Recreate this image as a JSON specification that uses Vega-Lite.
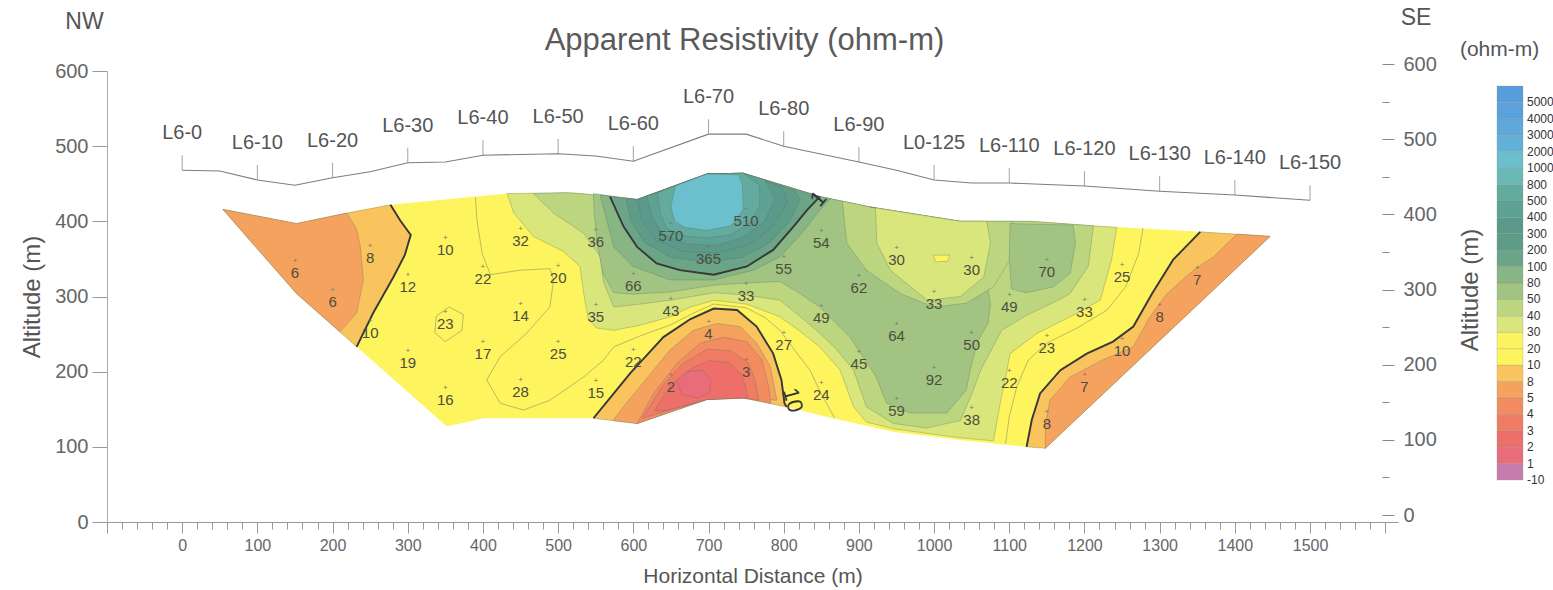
{
"$schema":"https://vega.github.io/schema/vega-lite/v6.json",
"width":1291,"height":451,
"autosize":{"type":"none"},
"padding":{"left":107,"top":71,"right":155,"bottom":68},
"background":"white",
"config":{"view":{"stroke":null},"font":"Liberation Sans","axis":{"grid":false,"labelFont":"Liberation Sans","titleFont":"Liberation Sans","titleFontWeight":"normal"},"title":{"font":"Liberation Sans","fontWeight":"normal"}},
"title":{"text":"Apparent Resistivity (ohm-m)","fontSize":31,"color":"#5a5a5a","anchor":"middle","frame":"group","dx":-8,"offset":-50},
"datasets":{
"poly":[
{"p":"S","z":0,"b":"10","x":54,"y":416},{"p":"S","z":0,"b":"10","x":152,"y":397},{"p":"S","z":0,"b":"10","x":219,"y":411},{"p":"S","z":0,"b":"10","x":277,"y":422},{"p":"S","z":0,"b":"10","x":432,"y":437},{"p":"S","z":0,"b":"10","x":512,"y":438},{"p":"S","z":0,"b":"10","x":529,"y":437},{"p":"S","z":0,"b":"10","x":605,"y":429},{"p":"S","z":0,"b":"10","x":698,"y":463},{"p":"S","z":0,"b":"10","x":746,"y":464},{"p":"S","z":0,"b":"10","x":848,"y":433},{"p":"S","z":0,"b":"10","x":915,"y":419},{"p":"S","z":0,"b":"10","x":1035,"y":400},{"p":"S","z":0,"b":"10","x":1128,"y":400},{"p":"S","z":0,"b":"10","x":1212,"y":394},{"p":"S","z":0,"b":"10","x":1354,"y":386},{"p":"S","z":0,"b":"10","x":1447,"y":380},{"p":"S","z":0,"b":"10","x":1148,"y":98},{"p":"S","z":0,"b":"10","x":1123,"y":100},{"p":"S","z":0,"b":"10","x":1035,"y":109},{"p":"S","z":0,"b":"10","x":946,"y":120},{"p":"S","z":0,"b":"10","x":857,"y":140},{"p":"S","z":0,"b":"10","x":804,"y":153},{"p":"S","z":0,"b":"10","x":746,"y":165},{"p":"S","z":0,"b":"10","x":698,"y":163},{"p":"S","z":0,"b":"10","x":605,"y":131},{"p":"S","z":0,"b":"10","x":547,"y":138},{"p":"S","z":0,"b":"10","x":401,"y":138},{"p":"S","z":0,"b":"10","x":352,"y":127},{"p":"S","z":0,"b":"10","x":232,"y":233},{"p":"S","z":0,"b":"10","x":152,"y":304},
{"p":"LOL","z":1,"b":"8","x":54,"y":416},{"p":"LOL","z":1,"b":"8","x":152,"y":397},{"p":"LOL","z":1,"b":"8","x":219,"y":411},{"p":"LOL","z":1,"b":"8","x":277,"y":422},{"p":"LOL","z":1,"b":"8","x":290,"y":401},{"p":"LOL","z":1,"b":"8","x":304,"y":382},{"p":"LOL","z":1,"b":"8","x":296,"y":355},{"p":"LOL","z":1,"b":"8","x":281,"y":326},{"p":"LOL","z":1,"b":"8","x":254,"y":278},{"p":"LOL","z":1,"b":"8","x":232,"y":233},{"p":"LOL","z":1,"b":"8","x":152,"y":304},
{"p":"LOR","z":1,"b":"8","x":1354,"y":386},{"p":"LOR","z":1,"b":"8","x":1318,"y":349},{"p":"LOR","z":1,"b":"8","x":1290,"y":304},{"p":"LOR","z":1,"b":"8","x":1265,"y":260},{"p":"LOR","z":1,"b":"8","x":1238,"y":240},{"p":"LOR","z":1,"b":"8","x":1203,"y":224},{"p":"LOR","z":1,"b":"8","x":1168,"y":202},{"p":"LOR","z":1,"b":"8","x":1141,"y":171},{"p":"LOR","z":1,"b":"8","x":1130,"y":136},{"p":"LOR","z":1,"b":"8","x":1123,"y":100},{"p":"LOR","z":1,"b":"8","x":1148,"y":98},{"p":"LOR","z":1,"b":"8","x":1447,"y":380},
{"p":"LOC","z":1,"b":"8","x":547,"y":138},{"p":"LOC","z":1,"b":"8","x":574,"y":171},{"p":"LOC","z":1,"b":"8","x":596,"y":198},{"p":"LOC","z":1,"b":"8","x":618,"y":222},{"p":"LOC","z":1,"b":"8","x":640,"y":246},{"p":"LOC","z":1,"b":"8","x":676,"y":270},{"p":"LOC","z":1,"b":"8","x":707,"y":284},{"p":"LOC","z":1,"b":"8","x":738,"y":282},{"p":"LOC","z":1,"b":"8","x":764,"y":260},{"p":"LOC","z":1,"b":"8","x":786,"y":224},{"p":"LOC","z":1,"b":"8","x":797,"y":189},{"p":"LOC","z":1,"b":"8","x":801,"y":158},{"p":"LOC","z":1,"b":"8","x":804,"y":153},{"p":"LOC","z":1,"b":"8","x":746,"y":165},{"p":"LOC","z":1,"b":"8","x":698,"y":163},{"p":"LOC","z":1,"b":"8","x":605,"y":131},
{"p":"P30","z":1,"b":"30","x":432,"y":437},{"p":"P30","z":1,"b":"30","x":512,"y":438},{"p":"P30","z":1,"b":"30","x":529,"y":437},{"p":"P30","z":1,"b":"30","x":605,"y":429},{"p":"P30","z":1,"b":"30","x":698,"y":463},{"p":"P30","z":1,"b":"30","x":746,"y":464},{"p":"P30","z":1,"b":"30","x":848,"y":433},{"p":"P30","z":1,"b":"30","x":915,"y":419},{"p":"P30","z":1,"b":"30","x":1035,"y":400},{"p":"P30","z":1,"b":"30","x":1128,"y":400},{"p":"P30","z":1,"b":"30","x":1212,"y":394},{"p":"P30","z":1,"b":"30","x":1243,"y":392},{"p":"P30","z":1,"b":"30","x":1236,"y":349},{"p":"P30","z":1,"b":"30","x":1221,"y":295},{"p":"P30","z":1,"b":"30","x":1181,"y":273},{"p":"P30","z":1,"b":"30","x":1137,"y":251},{"p":"P30","z":1,"b":"30","x":1101,"y":224},{"p":"P30","z":1,"b":"30","x":1097,"y":202},{"p":"P30","z":1,"b":"30","x":1088,"y":158},{"p":"P30","z":1,"b":"30","x":1079,"y":108},{"p":"P30","z":1,"b":"30","x":1035,"y":112},{"p":"P30","z":1,"b":"30","x":990,"y":118},{"p":"P30","z":1,"b":"30","x":946,"y":124},{"p":"P30","z":1,"b":"30","x":910,"y":133},{"p":"P30","z":1,"b":"30","x":893,"y":153},{"p":"P30","z":1,"b":"30","x":875,"y":202},{"p":"P30","z":1,"b":"30","x":848,"y":233},{"p":"P30","z":1,"b":"30","x":820,"y":255},{"p":"P30","z":1,"b":"30","x":795,"y":273},{"p":"P30","z":1,"b":"30","x":750,"y":290},{"p":"P30","z":1,"b":"30","x":707,"y":295},{"p":"P30","z":1,"b":"30","x":676,"y":286},{"p":"P30","z":1,"b":"30","x":649,"y":273},{"p":"P30","z":1,"b":"30","x":610,"y":262},{"p":"P30","z":1,"b":"30","x":574,"y":255},{"p":"P30","z":1,"b":"30","x":551,"y":258},{"p":"P30","z":1,"b":"30","x":540,"y":270},{"p":"P30","z":1,"b":"30","x":534,"y":304},{"p":"P30","z":1,"b":"30","x":529,"y":340},{"p":"P30","z":1,"b":"30","x":507,"y":360},{"p":"P30","z":1,"b":"30","x":467,"y":380},{"p":"P30","z":1,"b":"30","x":441,"y":411},
{"p":"OL","z":2,"b":"5","x":54,"y":416},{"p":"OL","z":2,"b":"5","x":152,"y":397},{"p":"OL","z":2,"b":"5","x":219,"y":411},{"p":"OL","z":2,"b":"5","x":232,"y":390},{"p":"OL","z":2,"b":"5","x":237,"y":366},{"p":"OL","z":2,"b":"5","x":241,"y":322},{"p":"OL","z":2,"b":"5","x":232,"y":278},{"p":"OL","z":2,"b":"5","x":210,"y":253},{"p":"OL","z":2,"b":"5","x":152,"y":304},
{"p":"OR","z":2,"b":"5","x":1403,"y":383},{"p":"OR","z":2,"b":"5","x":1372,"y":353},{"p":"OR","z":2,"b":"5","x":1345,"y":335},{"p":"OR","z":2,"b":"5","x":1310,"y":304},{"p":"OR","z":2,"b":"5","x":1287,"y":273},{"p":"OR","z":2,"b":"5","x":1265,"y":233},{"p":"OR","z":2,"b":"5","x":1225,"y":216},{"p":"OR","z":2,"b":"5","x":1181,"y":193},{"p":"OR","z":2,"b":"5","x":1154,"y":162},{"p":"OR","z":2,"b":"5","x":1148,"y":127},{"p":"OR","z":2,"b":"5","x":1148,"y":98},{"p":"OR","z":2,"b":"5","x":1447,"y":380},
{"p":"OC","z":2,"b":"5","x":573,"y":135},{"p":"OC","z":2,"b":"5","x":592,"y":160},{"p":"OC","z":2,"b":"5","x":609,"y":180},{"p":"OC","z":2,"b":"5","x":630,"y":206},{"p":"OC","z":2,"b":"5","x":649,"y":229},{"p":"OC","z":2,"b":"5","x":680,"y":255},{"p":"OC","z":2,"b":"5","x":711,"y":264},{"p":"OC","z":2,"b":"5","x":742,"y":260},{"p":"OC","z":2,"b":"5","x":764,"y":238},{"p":"OC","z":2,"b":"5","x":782,"y":207},{"p":"OC","z":2,"b":"5","x":791,"y":162},{"p":"OC","z":2,"b":"5","x":746,"y":165},{"p":"OC","z":2,"b":"5","x":698,"y":163},{"p":"OC","z":2,"b":"5","x":605,"y":131},
{"p":"P40","z":2,"b":"40","x":467,"y":437},{"p":"P40","z":2,"b":"40","x":512,"y":438},{"p":"P40","z":2,"b":"40","x":529,"y":437},{"p":"P40","z":2,"b":"40","x":605,"y":429},{"p":"P40","z":2,"b":"40","x":698,"y":463},{"p":"P40","z":2,"b":"40","x":746,"y":464},{"p":"P40","z":2,"b":"40","x":848,"y":433},{"p":"P40","z":2,"b":"40","x":915,"y":419},{"p":"P40","z":2,"b":"40","x":1035,"y":400},{"p":"P40","z":2,"b":"40","x":1128,"y":400},{"p":"P40","z":2,"b":"40","x":1212,"y":394},{"p":"P40","z":2,"b":"40","x":1205,"y":340},{"p":"P40","z":2,"b":"40","x":1181,"y":304},{"p":"P40","z":2,"b":"40","x":1165,"y":295},{"p":"P40","z":2,"b":"40","x":1123,"y":275},{"p":"P40","z":2,"b":"40","x":1090,"y":255},{"p":"P40","z":2,"b":"40","x":1074,"y":225},{"p":"P40","z":2,"b":"40","x":1062,"y":202},{"p":"P40","z":2,"b":"40","x":1050,"y":170},{"p":"P40","z":2,"b":"40","x":1035,"y":135},{"p":"P40","z":2,"b":"40","x":990,"y":125},{"p":"P40","z":2,"b":"40","x":946,"y":131},{"p":"P40","z":2,"b":"40","x":910,"y":153},{"p":"P40","z":2,"b":"40","x":893,"y":202},{"p":"P40","z":2,"b":"40","x":870,"y":230},{"p":"P40","z":2,"b":"40","x":848,"y":251},{"p":"P40","z":2,"b":"40","x":820,"y":275},{"p":"P40","z":2,"b":"40","x":795,"y":295},{"p":"P40","z":2,"b":"40","x":750,"y":302},{"p":"P40","z":2,"b":"40","x":707,"y":305},{"p":"P40","z":2,"b":"40","x":649,"y":295},{"p":"P40","z":2,"b":"40","x":610,"y":290},{"p":"P40","z":2,"b":"40","x":574,"y":286},{"p":"P40","z":2,"b":"40","x":560,"y":320},{"p":"P40","z":2,"b":"40","x":556,"y":353},{"p":"P40","z":2,"b":"40","x":534,"y":384},{"p":"P40","z":2,"b":"40","x":494,"y":411},
{"p":"P45","z":3,"b":"4","x":605,"y":131},{"p":"P45","z":3,"b":"4","x":627,"y":171},{"p":"P45","z":3,"b":"4","x":658,"y":211},{"p":"P45","z":3,"b":"4","x":689,"y":238},{"p":"P45","z":3,"b":"4","x":720,"y":246},{"p":"P45","z":3,"b":"4","x":751,"y":240},{"p":"P45","z":3,"b":"4","x":771,"y":216},{"p":"P45","z":3,"b":"4","x":780,"y":180},{"p":"P45","z":3,"b":"4","x":783,"y":158},{"p":"P45","z":3,"b":"4","x":746,"y":165},{"p":"P45","z":3,"b":"4","x":698,"y":163},
{"p":"P50","z":3,"b":"50","x":547,"y":437},{"p":"P50","z":3,"b":"50","x":605,"y":429},{"p":"P50","z":3,"b":"50","x":698,"y":463},{"p":"P50","z":3,"b":"50","x":746,"y":464},{"p":"P50","z":3,"b":"50","x":848,"y":433},{"p":"P50","z":3,"b":"50","x":915,"y":419},{"p":"P50","z":3,"b":"50","x":1035,"y":400},{"p":"P50","z":3,"b":"50","x":1060,"y":400},{"p":"P50","z":3,"b":"50","x":1060,"y":360},{"p":"P50","z":3,"b":"50","x":1070,"y":320},{"p":"P50","z":3,"b":"50","x":1075,"y":290},{"p":"P50","z":3,"b":"50","x":1072,"y":265},{"p":"P50","z":3,"b":"50","x":1058,"y":240},{"p":"P50","z":3,"b":"50","x":1048,"y":202},{"p":"P50","z":3,"b":"50","x":1043,"y":176},{"p":"P50","z":3,"b":"50","x":1017,"y":145},{"p":"P50","z":3,"b":"50","x":968,"y":145},{"p":"P50","z":3,"b":"50","x":937,"y":158},{"p":"P50","z":3,"b":"50","x":922,"y":195},{"p":"P50","z":3,"b":"50","x":888,"y":246},{"p":"P50","z":3,"b":"50","x":848,"y":286},{"p":"P50","z":3,"b":"50","x":820,"y":305},{"p":"P50","z":3,"b":"50","x":795,"y":320},{"p":"P50","z":3,"b":"50","x":750,"y":318},{"p":"P50","z":3,"b":"50","x":707,"y":315},{"p":"P50","z":3,"b":"50","x":649,"y":306},{"p":"P50","z":3,"b":"50","x":600,"y":303},{"p":"P50","z":3,"b":"50","x":574,"y":305},{"p":"P50","z":3,"b":"50","x":560,"y":330},{"p":"P50","z":3,"b":"50","x":552,"y":370},{"p":"P50","z":3,"b":"50","x":548,"y":410},
{"p":"P34","z":4,"b":"3","x":612,"y":138},{"p":"P34","z":4,"b":"3","x":638,"y":180},{"p":"P34","z":4,"b":"3","x":665,"y":210},{"p":"P34","z":4,"b":"3","x":698,"y":230},{"p":"P34","z":4,"b":"3","x":729,"y":228},{"p":"P34","z":4,"b":"3","x":753,"y":212},{"p":"P34","z":4,"b":"3","x":762,"y":188},{"p":"P34","z":4,"b":"3","x":767,"y":162},{"p":"P34","z":4,"b":"3","x":746,"y":165},{"p":"P34","z":4,"b":"3","x":698,"y":163},
{"p":"R40","z":4,"b":"40","x":878,"y":427},{"p":"R40","z":4,"b":"40","x":884,"y":371},{"p":"R40","z":4,"b":"40","x":910,"y":335},{"p":"R40","z":4,"b":"40","x":955,"y":304},{"p":"R40","z":4,"b":"40","x":999,"y":286},{"p":"R40","z":4,"b":"40","x":1043,"y":291},{"p":"R40","z":4,"b":"40","x":1079,"y":313},{"p":"R40","z":4,"b":"40","x":1101,"y":349},{"p":"R40","z":4,"b":"40","x":1105,"y":400},{"p":"R40","z":4,"b":"40","x":1035,"y":400},{"p":"R40","z":4,"b":"40","x":915,"y":419},
{"p":"B70","z":4,"b":"50","x":1101,"y":397},{"p":"B70","z":4,"b":"50","x":1185,"y":395},{"p":"B70","z":4,"b":"50","x":1188,"y":371},{"p":"B70","z":4,"b":"50","x":1181,"y":331},{"p":"B70","z":4,"b":"50","x":1159,"y":313},{"p":"B70","z":4,"b":"50","x":1123,"y":305},{"p":"B70","z":4,"b":"50","x":1103,"y":310},{"p":"B70","z":4,"b":"50","x":1100,"y":350},
{"p":"P80","z":4,"b":"80","x":556,"y":435},{"p":"P80","z":4,"b":"80","x":565,"y":400},{"p":"P80","z":4,"b":"80","x":574,"y":366},{"p":"P80","z":4,"b":"80","x":600,"y":340},{"p":"P80","z":4,"b":"80","x":649,"y":322},{"p":"P80","z":4,"b":"80","x":707,"y":322},{"p":"P80","z":4,"b":"80","x":760,"y":335},{"p":"P80","z":4,"b":"80","x":795,"y":353},{"p":"P80","z":4,"b":"80","x":825,"y":385},{"p":"P80","z":4,"b":"80","x":848,"y":415},{"p":"P80","z":4,"b":"80","x":862,"y":430},{"p":"P80","z":4,"b":"80","x":848,"y":433},{"p":"P80","z":4,"b":"80","x":746,"y":464},{"p":"P80","z":4,"b":"80","x":698,"y":463},{"p":"P80","z":4,"b":"80","x":605,"y":429},
{"p":"P23","z":5,"b":"2","x":628,"y":148},{"p":"P23","z":5,"b":"2","x":650,"y":182},{"p":"P23","z":5,"b":"2","x":678,"y":205},{"p":"P23","z":5,"b":"2","x":702,"y":215},{"p":"P23","z":5,"b":"2","x":728,"y":212},{"p":"P23","z":5,"b":"2","x":744,"y":196},{"p":"P23","z":5,"b":"2","x":750,"y":178},{"p":"P23","z":5,"b":"2","x":752,"y":165},{"p":"P23","z":5,"b":"2","x":698,"y":163},{"p":"P23","z":5,"b":"2","x":642,"y":148},
{"p":"B30","z":5,"b":"30","x":922,"y":418},{"p":"B30","z":5,"b":"30","x":924,"y":371},{"p":"B30","z":5,"b":"30","x":942,"y":335},{"p":"B30","z":5,"b":"30","x":991,"y":295},{"p":"B30","z":5,"b":"30","x":1035,"y":300},{"p":"B30","z":5,"b":"30","x":1066,"y":326},{"p":"B30","z":5,"b":"30","x":1075,"y":371},{"p":"B30","z":5,"b":"30","x":1070,"y":400},{"p":"B30","z":5,"b":"30","x":1035,"y":400},{"p":"B30","z":5,"b":"30","x":915,"y":419},
{"p":"P100","z":5,"b":"100","x":569,"y":433},{"p":"P100","z":5,"b":"100","x":587,"y":393},{"p":"P100","z":5,"b":"100","x":605,"y":366},{"p":"P100","z":5,"b":"100","x":631,"y":344},{"p":"P100","z":5,"b":"100","x":662,"y":335},{"p":"P100","z":5,"b":"100","x":707,"y":329},{"p":"P100","z":5,"b":"100","x":751,"y":340},{"p":"P100","z":5,"b":"100","x":786,"y":362},{"p":"P100","z":5,"b":"100","x":813,"y":393},{"p":"P100","z":5,"b":"100","x":831,"y":415},{"p":"P100","z":5,"b":"100","x":848,"y":433},{"p":"P100","z":5,"b":"100","x":746,"y":464},{"p":"P100","z":5,"b":"100","x":698,"y":463},{"p":"P100","z":5,"b":"100","x":605,"y":429},
{"p":"P12","z":6,"b":"1","x":658,"y":188},{"p":"P12","z":6,"b":"1","x":670,"y":200},{"p":"P12","z":6,"b":"1","x":692,"y":202},{"p":"P12","z":6,"b":"1","x":703,"y":190},{"p":"P12","z":6,"b":"1","x":702,"y":172},{"p":"P12","z":6,"b":"1","x":686,"y":165},{"p":"P12","z":6,"b":"1","x":664,"y":170},
{"p":"Y20","z":6,"b":"20","x":999,"y":355},{"p":"Y20","z":6,"b":"20","x":1021,"y":355},{"p":"Y20","z":6,"b":"20","x":1018,"y":347},{"p":"Y20","z":6,"b":"20","x":1002,"y":346},
{"p":"P200","z":6,"b":"200","x":590,"y":431},{"p":"P200","z":6,"b":"200","x":597,"y":400},{"p":"P200","z":6,"b":"200","x":615,"y":372},{"p":"P200","z":6,"b":"200","x":650,"y":352},{"p":"P200","z":6,"b":"200","x":700,"y":346},{"p":"P200","z":6,"b":"200","x":745,"y":352},{"p":"P200","z":6,"b":"200","x":782,"y":372},{"p":"P200","z":6,"b":"200","x":808,"y":400},{"p":"P200","z":6,"b":"200","x":822,"y":428},{"p":"P200","z":6,"b":"200","x":815,"y":441},{"p":"P200","z":6,"b":"200","x":746,"y":464},{"p":"P200","z":6,"b":"200","x":698,"y":463},{"p":"P200","z":6,"b":"200","x":605,"y":429},
{"p":"P300","z":7,"b":"300","x":605,"y":429},{"p":"P300","z":7,"b":"300","x":612,"y":400},{"p":"P300","z":7,"b":"300","x":630,"y":375},{"p":"P300","z":7,"b":"300","x":665,"y":360},{"p":"P300","z":7,"b":"300","x":710,"y":358},{"p":"P300","z":7,"b":"300","x":752,"y":368},{"p":"P300","z":7,"b":"300","x":785,"y":392},{"p":"P300","z":7,"b":"300","x":805,"y":425},{"p":"P300","z":7,"b":"300","x":798,"y":445},{"p":"P300","z":7,"b":"300","x":746,"y":464},{"p":"P300","z":7,"b":"300","x":698,"y":463},
{"p":"P400","z":8,"b":"400","x":618,"y":433},{"p":"P400","z":8,"b":"400","x":625,"y":405},{"p":"P400","z":8,"b":"400","x":640,"y":382},{"p":"P400","z":8,"b":"400","x":670,"y":370},{"p":"P400","z":8,"b":"400","x":710,"y":368},{"p":"P400","z":8,"b":"400","x":745,"y":378},{"p":"P400","z":8,"b":"400","x":775,"y":400},{"p":"P400","z":8,"b":"400","x":788,"y":430},{"p":"P400","z":8,"b":"400","x":775,"y":455},{"p":"P400","z":8,"b":"400","x":746,"y":464},{"p":"P400","z":8,"b":"400","x":698,"y":463},
{"p":"P500","z":9,"b":"500","x":632,"y":438},{"p":"P500","z":9,"b":"500","x":636,"y":410},{"p":"P500","z":9,"b":"500","x":645,"y":390},{"p":"P500","z":9,"b":"500","x":670,"y":380},{"p":"P500","z":9,"b":"500","x":700,"y":378},{"p":"P500","z":9,"b":"500","x":730,"y":382},{"p":"P500","z":9,"b":"500","x":755,"y":398},{"p":"P500","z":9,"b":"500","x":768,"y":420},{"p":"P500","z":9,"b":"500","x":768,"y":448},{"p":"P500","z":9,"b":"500","x":746,"y":464},{"p":"P500","z":9,"b":"500","x":698,"y":463},
{"p":"CORE","z":10,"b":"1000","x":656,"y":447},{"p":"CORE","z":10,"b":"1000","x":650,"y":420},{"p":"CORE","z":10,"b":"1000","x":655,"y":400},{"p":"CORE","z":10,"b":"1000","x":668,"y":392},{"p":"CORE","z":10,"b":"1000","x":698,"y":388},{"p":"CORE","z":10,"b":"1000","x":730,"y":394},{"p":"CORE","z":10,"b":"1000","x":746,"y":415},{"p":"CORE","z":10,"b":"1000","x":745,"y":448},{"p":"CORE","z":10,"b":"1000","x":740,"y":462},{"p":"CORE","z":10,"b":"1000","x":698,"y":463}
],
"thin":[
{"l":"T1","x":390,"y":432},{"l":"T1","x":392,"y":402},{"l":"T1","x":399,"y":357},{"l":"T1","x":410,"y":329},{"l":"T1","x":449,"y":335},{"l":"T1","x":489,"y":337},{"l":"T1","x":494,"y":322},{"l":"T1","x":489,"y":286},{"l":"T1","x":458,"y":251},{"l":"T1","x":423,"y":220},{"l":"T1","x":405,"y":189},{"l":"T1","x":423,"y":158},{"l":"T1","x":454,"y":149},{"l":"T1","x":489,"y":162},{"l":"T1","x":534,"y":193},{"l":"T1","x":560,"y":215},{"l":"T1","x":574,"y":233},{"l":"T1","x":610,"y":248},{"l":"T1","x":649,"y":262},{"l":"T1","x":680,"y":278},{"l":"T1","x":707,"y":290},{"l":"T1","x":750,"y":285},{"l":"T1","x":775,"y":272},{"l":"T1","x":795,"y":255},{"l":"T1","x":815,"y":228},{"l":"T1","x":835,"y":202},{"l":"T1","x":850,"y":170},{"l":"T1","x":868,"y":138},
{"l":"T2","x":355,"y":286},{"l":"T2","x":374,"y":276},{"l":"T2","x":372,"y":255},{"l":"T2","x":350,"y":240},{"l":"T2","x":336,"y":252},{"l":"T2","x":338,"y":274},{"l":"T2","x":355,"y":286},
{"l":"T3","x":1278,"y":391},{"l":"T3","x":1272,"y":357},{"l":"T3","x":1255,"y":313},{"l":"T3","x":1230,"y":282},{"l":"T3","x":1190,"y":258},{"l":"T3","x":1150,"y":238},{"l":"T3","x":1125,"y":215},{"l":"T3","x":1110,"y":180},{"l":"T3","x":1100,"y":140},{"l":"T3","x":1095,"y":104}
],
"thick":[
{"l":"K1","x":277,"y":422},{"l":"K1","x":290,"y":401},{"l":"K1","x":304,"y":382},{"l":"K1","x":296,"y":355},{"l":"K1","x":281,"y":326},{"l":"K1","x":254,"y":278},{"l":"K1","x":232,"y":233},
{"l":"K2","x":547,"y":138},{"l":"K2","x":574,"y":171},{"l":"K2","x":596,"y":198},{"l":"K2","x":618,"y":222},{"l":"K2","x":640,"y":246},{"l":"K2","x":676,"y":270},{"l":"K2","x":707,"y":284},{"l":"K2","x":738,"y":282},{"l":"K2","x":764,"y":260},{"l":"K2","x":786,"y":224},{"l":"K2","x":797,"y":189},{"l":"K2","x":801,"y":158},{"l":"K2","x":804,"y":153},
{"l":"K3","x":1354,"y":386},{"l":"K3","x":1318,"y":349},{"l":"K3","x":1290,"y":304},{"l":"K3","x":1265,"y":260},{"l":"K3","x":1238,"y":240},{"l":"K3","x":1203,"y":224},{"l":"K3","x":1168,"y":202},{"l":"K3","x":1141,"y":171},{"l":"K3","x":1130,"y":136},{"l":"K3","x":1123,"y":100},
{"l":"K4","x":569,"y":433},{"l":"K4","x":587,"y":393},{"l":"K4","x":605,"y":366},{"l":"K4","x":631,"y":344},{"l":"K4","x":662,"y":335},{"l":"K4","x":707,"y":329},{"l":"K4","x":751,"y":340},{"l":"K4","x":786,"y":362},{"l":"K4","x":813,"y":393},{"l":"K4","x":831,"y":415},{"l":"K4","x":848,"y":433}
],
"profile":[{"x":0,"y":468},{"x":50,"y":467},{"x":100,"y":455},{"x":150,"y":448},{"x":200,"y":458},{"x":250,"y":466},{"x":300,"y":478},{"x":350,"y":479},{"x":400,"y":488},{"x":500,"y":490},{"x":550,"y":487},{"x":600,"y":480},{"x":700,"y":516},{"x":750,"y":516},{"x":800,"y":500},{"x":900,"y":479},{"x":950,"y":468},{"x":1000,"y":455},{"x":1050,"y":451},{"x":1100,"y":451},{"x":1200,"y":447},{"x":1300,"y":440},{"x":1400,"y":435},{"x":1500,"y":428}],
"stations":[{"s":"L6-0","x":0,"y":468},{"s":"L6-10","x":100,"y":455},{"s":"L6-20","x":200,"y":458},{"s":"L6-30","x":300,"y":478},{"s":"L6-40","x":400,"y":488},{"s":"L6-50","x":500,"y":490},{"s":"L6-60","x":600,"y":480},{"s":"L6-70","x":700,"y":516},{"s":"L6-80","x":800,"y":500},{"s":"L6-90","x":900,"y":479},{"s":"L0-125","x":1000,"y":455},{"s":"L6-110","x":1100,"y":451},{"s":"L6-120","x":1200,"y":447},{"s":"L6-130","x":1300,"y":440},{"s":"L6-140","x":1400,"y":435},{"s":"L6-150","x":1500,"y":428}],
"vals":[
{"v":"6","x":150,"y":347},{"v":"6","x":200,"y":309},{"v":"8","x":250,"y":367},{"v":"10","x":250,"y":267},{"v":"10","x":350,"y":378},{"v":"12","x":300,"y":328},{"v":"23","x":350,"y":279},{"v":"19","x":300,"y":228},{"v":"16","x":350,"y":178},{"v":"32","x":450,"y":390},{"v":"22","x":400,"y":339},{"v":"14","x":450,"y":290},{"v":"17","x":400,"y":239},{"v":"28","x":450,"y":189},{"v":"36","x":550,"y":388},{"v":"20","x":500,"y":340},{"v":"35","x":550,"y":289},{"v":"25","x":500,"y":240},{"v":"15","x":550,"y":187},{"v":"66","x":600,"y":330},{"v":"22","x":600,"y":229},{"v":"570","x":650,"y":396},{"v":"510","x":750,"y":416},{"v":"365","x":700,"y":366},{"v":"54","x":850,"y":387},{"v":"55","x":800,"y":352},{"v":"62","x":900,"y":327},{"v":"43","x":650,"y":297},{"v":"33","x":750,"y":316},{"v":"49","x":850,"y":287},{"v":"27","x":800,"y":251},{"v":"64","x":950,"y":263},{"v":"45","x":900,"y":226},{"v":"24","x":850,"y":185},{"v":"4","x":700,"y":266},{"v":"3","x":750,"y":216},{"v":"2","x":650,"y":196},{"v":"92","x":1000,"y":205},{"v":"59","x":950,"y":163},{"v":"30","x":950,"y":364},{"v":"30","x":1050,"y":351},{"v":"33","x":1000,"y":306},{"v":"50","x":1050,"y":251},{"v":"49","x":1100,"y":302},{"v":"22","x":1100,"y":201},{"v":"38","x":1050,"y":152},{"v":"70","x":1150,"y":349},{"v":"25","x":1250,"y":342},{"v":"33","x":1200,"y":296},{"v":"23","x":1150,"y":248},{"v":"8","x":1300,"y":289},{"v":"7","x":1350,"y":338},{"v":"10","x":1250,"y":243},{"v":"7","x":1200,"y":196},{"v":"8","x":1150,"y":147}
],
"ann":[{"t":"NW","x":-130,"y":665},{"t":"SE","x":1641,"y":670}],
"leg":[{"i":0,"j":1,"b":"-10"},{"i":1,"j":2,"b":"1"},{"i":2,"j":3,"b":"2"},{"i":3,"j":4,"b":"3"},{"i":4,"j":5,"b":"4"},{"i":5,"j":6,"b":"5"},{"i":6,"j":7,"b":"8"},{"i":7,"j":8,"b":"10"},{"i":8,"j":9,"b":"20"},{"i":9,"j":10,"b":"30"},{"i":10,"j":11,"b":"40"},{"i":11,"j":12,"b":"50"},{"i":12,"j":13,"b":"80"},{"i":13,"j":14,"b":"100"},{"i":14,"j":15,"b":"200"},{"i":15,"j":16,"b":"300"},{"i":16,"j":17,"b":"400"},{"i":17,"j":18,"b":"500"},{"i":18,"j":19,"b":"800"},{"i":19,"j":20,"b":"1000"},{"i":20,"j":21,"b":"2000"},{"i":21,"j":22,"b":"3000"},{"i":22,"j":23,"b":"4000"},{"i":23,"j":24,"b":"5000"}]
},
"layer":[
{"layer":[
{"data":{"name":"poly"},"transform":[{"filter":"datum.z==0"}],"mark":{"type":"line","filled":true,"interpolate":"linear-closed","strokeWidth":0},
 "encoding":{
  "x":{"field":"x","type":"quantitative","scale":{"domain":[-100,1617],"nice":false,"zero":false},
   "axis":{"orient":"bottom","title":"Horizontal Distance (m)","titleFontSize":21,"titleColor":"#555","titlePadding":12,"format":"d","tickCount":300,
    "values":[-100,-80,-60,-40,-20,0,20,40,60,80,100,120,140,160,180,200,220,240,260,280,300,320,340,360,380,400,420,440,460,480,500,520,540,560,580,600,620,640,660,680,700,720,740,760,780,800,820,840,860,880,900,920,940,960,980,1000,1020,1040,1060,1080,1100,1120,1140,1160,1180,1200,1220,1240,1260,1280,1300,1320,1340,1360,1380,1400,1420,1440,1460,1480,1500,1520,1540,1560,1580,1600],
    "labelExpr":"datum.value >= 0 && datum.value <= 1500 && datum.value % 100 == 0 ? datum.label : ''",
    "tickSize":{"condition":{"test":"datum.value % 100 == 0","value":11},"value":7},
    "labelPadding":4,"labelFontSize":16,"labelColor":"#666","domainColor":"#999","tickColor":"#999","labelFlush":false,"labelOverlap":false}},
  "y":{"field":"y","type":"quantitative","scale":{"domain":[0,600],"nice":false,"zero":false},
   "axis":{"orient":"left","title":"Altitude (m)","titleFontSize":24,"titleColor":"#555","titlePadding":10,
    "values":[0,50,100,150,200,250,300,350,400,450,500,550,600],
    "labelExpr":"datum.value % 100 == 0 ? datum.label : ''",
    "tickSize":{"condition":{"test":"datum.value % 100 == 0","value":15},"value":9},
    "labelPadding":4,"labelFontSize":20,"labelColor":"#666","domainColor":"#aaa","tickColor":"#999","labelFlush":false,"labelOverlap":false}},
  "detail":{"field":"p"},"order":{"value":null},
  "color":{"field":"b","type":"nominal","legend":null,"scale":{"domain":["-10","1","2","3","4","5","8","10","20","30","40","50","80","100","200","300","400","500","800","1000","2000","3000","4000","5000"],"range":["#c77cb0","#e96c7a","#ee6e6a","#f17c64","#f48c61","#f6a25f","#f9c35d","#fdf45e","#fbf35f","#d9e67b","#bcd680","#a1c482","#88b584","#6ba486","#5e9c88","#5b9a8b","#5ea293","#63ab9f","#6bb9b6","#6cbfcc","#62b2d7","#5ea8da","#5ba1dc","#599cdc"]}}}},
{"data":{"name":"poly"},"transform":[{"filter":"datum.z==1"}],"mark":{"type":"line","filled":true,"interpolate":"linear-closed","stroke":"#5d6b5d","strokeWidth":0.7,"strokeOpacity":0.45},"encoding":{"x":{"field":"x","type":"quantitative"},"y":{"field":"y","type":"quantitative"},"detail":{"field":"p"},"order":{"value":null},"color":{"field":"b","type":"nominal","legend":null}}},
{"data":{"name":"poly"},"transform":[{"filter":"datum.z==2"}],"mark":{"type":"line","filled":true,"interpolate":"linear-closed","stroke":"#5d6b5d","strokeWidth":0.7,"strokeOpacity":0.45},"encoding":{"x":{"field":"x","type":"quantitative"},"y":{"field":"y","type":"quantitative"},"detail":{"field":"p"},"order":{"value":null},"color":{"field":"b","type":"nominal","legend":null}}},
{"data":{"name":"poly"},"transform":[{"filter":"datum.z==3"}],"mark":{"type":"line","filled":true,"interpolate":"linear-closed","stroke":"#5d6b5d","strokeWidth":0.7,"strokeOpacity":0.45},"encoding":{"x":{"field":"x","type":"quantitative"},"y":{"field":"y","type":"quantitative"},"detail":{"field":"p"},"order":{"value":null},"color":{"field":"b","type":"nominal","legend":null}}},
{"data":{"name":"poly"},"transform":[{"filter":"datum.z==4"}],"mark":{"type":"line","filled":true,"interpolate":"linear-closed","stroke":"#5d6b5d","strokeWidth":0.7,"strokeOpacity":0.45},"encoding":{"x":{"field":"x","type":"quantitative"},"y":{"field":"y","type":"quantitative"},"detail":{"field":"p"},"order":{"value":null},"color":{"field":"b","type":"nominal","legend":null}}},
{"data":{"name":"poly"},"transform":[{"filter":"datum.z==5"}],"mark":{"type":"line","filled":true,"interpolate":"linear-closed","stroke":"#5d6b5d","strokeWidth":0.7,"strokeOpacity":0.45},"encoding":{"x":{"field":"x","type":"quantitative"},"y":{"field":"y","type":"quantitative"},"detail":{"field":"p"},"order":{"value":null},"color":{"field":"b","type":"nominal","legend":null}}},
{"data":{"name":"poly"},"transform":[{"filter":"datum.z==6"}],"mark":{"type":"line","filled":true,"interpolate":"linear-closed","stroke":"#5d6b5d","strokeWidth":0.7,"strokeOpacity":0.45},"encoding":{"x":{"field":"x","type":"quantitative"},"y":{"field":"y","type":"quantitative"},"detail":{"field":"p"},"order":{"value":null},"color":{"field":"b","type":"nominal","legend":null}}},
{"data":{"name":"poly"},"transform":[{"filter":"datum.z==7"}],"mark":{"type":"line","filled":true,"interpolate":"linear-closed","stroke":"#5d6b5d","strokeWidth":0.7,"strokeOpacity":0.45},"encoding":{"x":{"field":"x","type":"quantitative"},"y":{"field":"y","type":"quantitative"},"detail":{"field":"p"},"order":{"value":null},"color":{"field":"b","type":"nominal","legend":null}}},
{"data":{"name":"poly"},"transform":[{"filter":"datum.z==8"}],"mark":{"type":"line","filled":true,"interpolate":"linear-closed","stroke":"#5d6b5d","strokeWidth":0.7,"strokeOpacity":0.45},"encoding":{"x":{"field":"x","type":"quantitative"},"y":{"field":"y","type":"quantitative"},"detail":{"field":"p"},"order":{"value":null},"color":{"field":"b","type":"nominal","legend":null}}},
{"data":{"name":"poly"},"transform":[{"filter":"datum.z==9"}],"mark":{"type":"line","filled":true,"interpolate":"linear-closed","stroke":"#5d6b5d","strokeWidth":0.7,"strokeOpacity":0.45},"encoding":{"x":{"field":"x","type":"quantitative"},"y":{"field":"y","type":"quantitative"},"detail":{"field":"p"},"order":{"value":null},"color":{"field":"b","type":"nominal","legend":null}}},
{"data":{"name":"poly"},"transform":[{"filter":"datum.z==10"}],"mark":{"type":"line","filled":true,"interpolate":"linear-closed","stroke":"#5d6b5d","strokeWidth":0.7,"strokeOpacity":0.45},"encoding":{"x":{"field":"x","type":"quantitative"},"y":{"field":"y","type":"quantitative"},"detail":{"field":"p"},"order":{"value":null},"color":{"field":"b","type":"nominal","legend":null}}},
{"data":{"name":"thin"},"mark":{"type":"line","stroke":"#7a7a6a","strokeWidth":0.7,"strokeOpacity":0.7},"encoding":{"x":{"field":"x","type":"quantitative"},"y":{"field":"y","type":"quantitative"},"detail":{"field":"l"},"order":{"value":null}}},
{"data":{"name":"thick"},"mark":{"type":"line","stroke":"#383838","strokeWidth":1.9},"encoding":{"x":{"field":"x","type":"quantitative"},"y":{"field":"y","type":"quantitative"},"detail":{"field":"l"},"order":{"value":null}}},
{"data":{"name":"profile"},"mark":{"type":"line","stroke":"#7d7d7d","strokeWidth":1.1},"encoding":{"x":{"field":"x","type":"quantitative"},"y":{"field":"y","type":"quantitative"},"order":{"value":null}}},
{"data":{"name":"stations"},"mark":{"type":"tick","orient":"vertical","size":15,"thickness":1,"color":"#7d7d7d","yOffset":-7.5},"encoding":{"x":{"field":"x","type":"quantitative"},"y":{"field":"y","type":"quantitative"}}},
{"data":{"name":"stations"},"mark":{"type":"text","fontSize":20,"color":"#555","baseline":"middle","dy":-37},"encoding":{"x":{"field":"x","type":"quantitative"},"y":{"field":"y","type":"quantitative"},"text":{"field":"s"}}},
{"data":{"name":"vals"},"mark":{"type":"text","text":"+","fontSize":8,"color":"#777","baseline":"middle"},"encoding":{"x":{"field":"x","type":"quantitative"},"y":{"field":"y","type":"quantitative"}}},
{"data":{"name":"vals"},"mark":{"type":"text","fontSize":15,"color":"#4d4d40","baseline":"middle","dy":12},"encoding":{"x":{"field":"x","type":"quantitative"},"y":{"field":"y","type":"quantitative"},"text":{"field":"v"}}},
{"data":{"values":[{"t":"10","x":812,"y":162}]},"mark":{"type":"text","fontSize":22,"color":"#333","angle":75,"baseline":"middle"},"encoding":{"x":{"field":"x","type":"quantitative"},"y":{"field":"y","type":"quantitative"},"text":{"field":"t"}}},
{"data":{"values":[{"t":"1","x":846,"y":430}]},"mark":{"type":"text","fontSize":22,"color":"#333","angle":-50,"baseline":"middle"},"encoding":{"x":{"field":"x","type":"quantitative"},"y":{"field":"y","type":"quantitative"},"text":{"field":"t"}}},
{"data":{"name":"ann"},"mark":{"type":"text","fontSize":23,"color":"#555","baseline":"middle"},"encoding":{"x":{"field":"x","type":"quantitative"},"y":{"field":"y","type":"quantitative"},"text":{"field":"t"}}}
]},
{"data":{"name":"leg"},"layer":[
 {"mark":{"type":"rect","stroke":"#8c8c8c","strokeWidth":0.4,"strokeOpacity":0.7},"encoding":{"x":{"datum":0,"type":"quantitative","scale":{"domain":[0,1],"range":[1390,1416]},"axis":null},"x2":{"datum":1},"y":{"field":"i","type":"quantitative","scale":{"domain":[0,24],"range":[409,15]},"axis":null},"y2":{"field":"j"},"color":{"field":"b","type":"nominal","legend":null}}},
 {"mark":{"type":"text","align":"left","baseline":"middle","dx":4,"fontSize":12,"color":"#333"},"encoding":{"x":{"datum":1,"type":"quantitative"},"y":{"field":"i","type":"quantitative"},"text":{"field":"b"}}},
 {"data":{"values":[{"u":"(ohm-m)"}]},"mark":{"type":"text","align":"center","baseline":"middle","fontSize":21,"color":"#555"},"encoding":{"x":{"datum":0.1,"type":"quantitative"},"y":{"datum":26.2,"type":"quantitative"},"text":{"field":"u"}}}
]},
{"data":{"values":[{"r":0}]},"mark":{"type":"rule","opacity":0},"encoding":{"y":{"field":"r","type":"quantitative","scale":{"domain":[0,600],"range":[444,-7]},
 "axis":{"orient":"right","title":"Altitude (m)","titleFontSize":24,"titleColor":"#555","titleAngle":270,"titleBaseline":"top","titlePadding":22,"domain":false,"offset":-16,
  "values":[0,50,100,150,200,250,300,350,400,450,500,550,600],"labelExpr":"datum.value % 100 == 0 ? datum.label : ''",
  "tickSize":{"condition":{"test":"datum.value % 100 == 0","value":12},"value":7},"tickColor":"#888","labelPadding":9,"labelFontSize":20,"labelColor":"#666","labelFlush":false,"labelOverlap":false}}}}
],
"resolve":{"scale":{"x":"independent","y":"independent"}}
}
